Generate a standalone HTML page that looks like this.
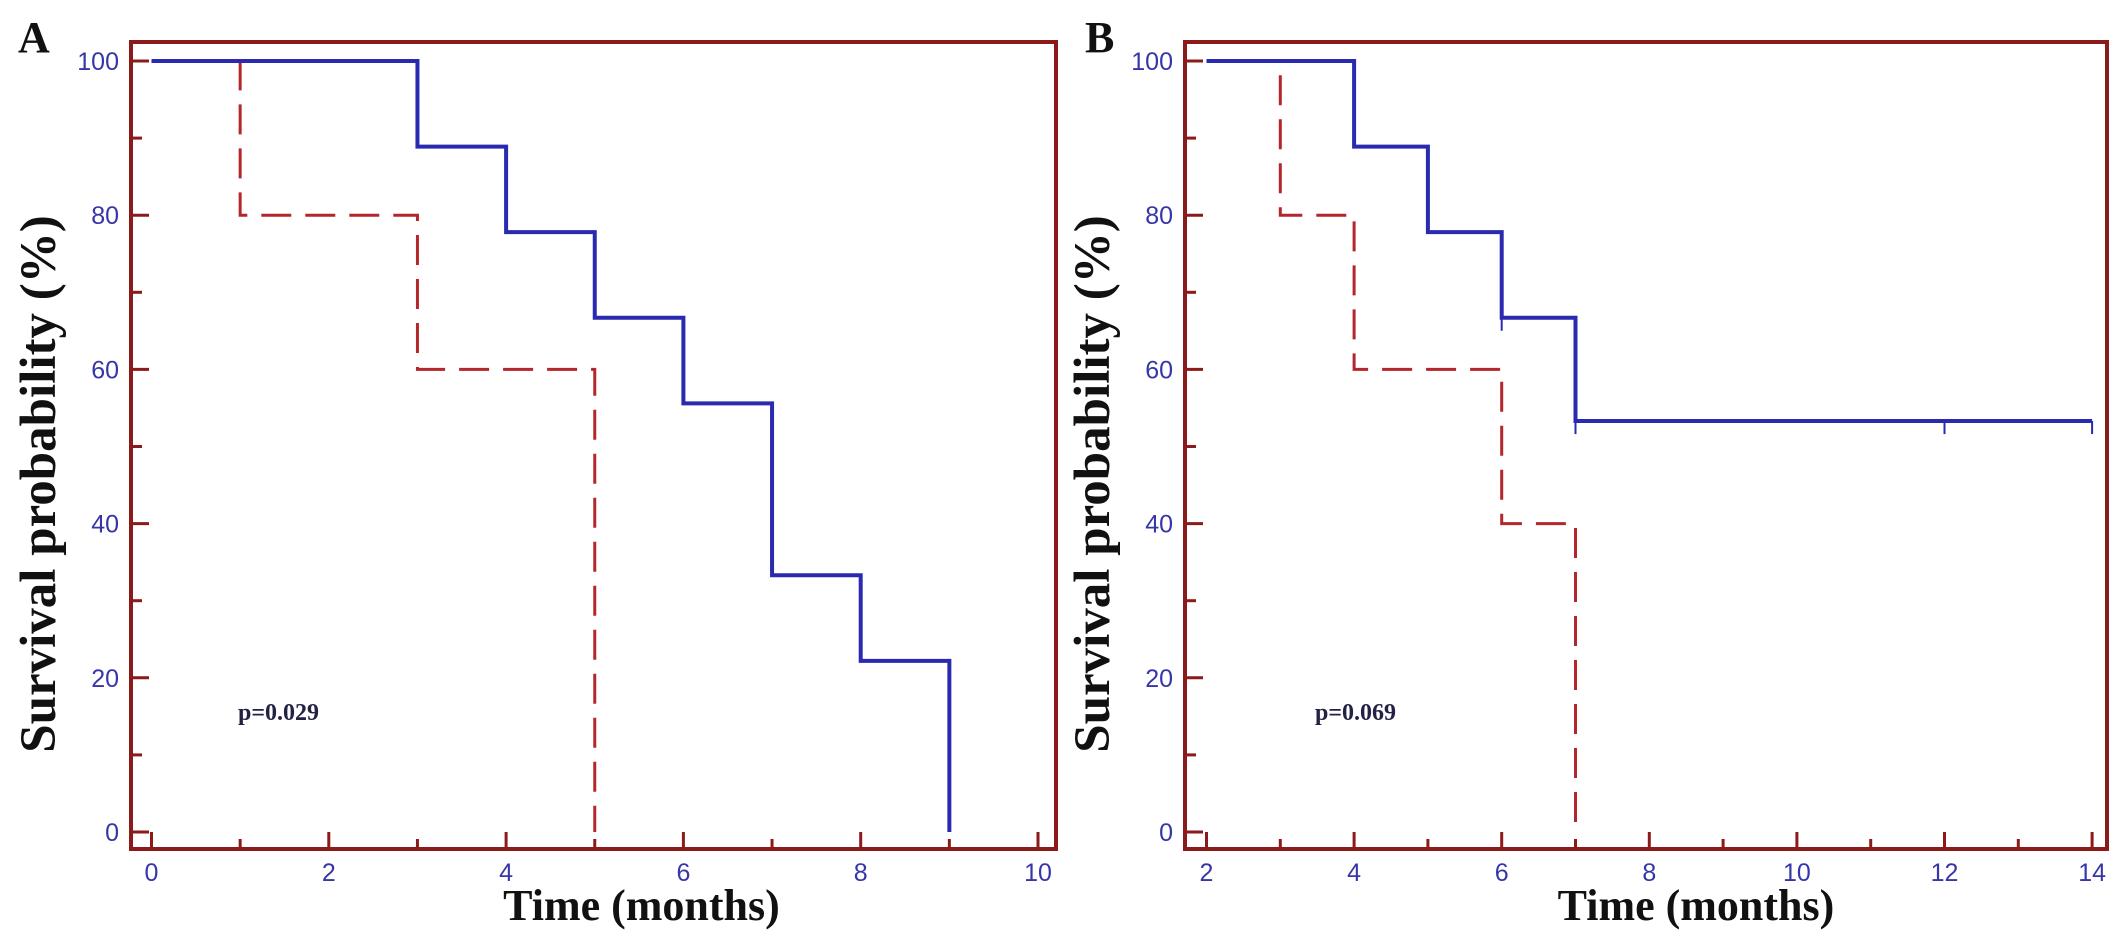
<!DOCTYPE html>
<html><head><meta charset="utf-8"><style>
html,body{margin:0;padding:0;background:#fff;}
svg{display:block;}
.tl{font-family:"Liberation Sans",sans-serif;font-size:25px;fill:#3636a8;}
.ttl{font-family:"Liberation Serif",serif;font-weight:bold;font-size:44px;fill:#111;}
.pv{font-family:"Liberation Serif",serif;font-weight:bold;font-size:24px;fill:#222244;}
</style></head><body>
<svg id="chart" width="2126" height="947" viewBox="0 0 2126 947" xmlns="http://www.w3.org/2000/svg">
<text x="18" y="52" class="ttl" font-size="42">A</text>
<text x="1085" y="52" class="ttl" font-size="42">B</text>
</svg>
<script>
// Panel A data
const aBlueT = [0, 3, 4, 5, 6, 7, 8, 9];
const aBlueS = [100, 88.9, 77.8, 66.7, 55.6, 33.3, 22.2, 0];
const aRedT = [0, 1, 3, 5];
const aRedS = [100, 80, 60, 0];
const aXTicks = [0, 2, 4, 6, 8, 10];
const aCensor = [];
// Panel B data
const bBlueT = [2, 4, 5, 6, 7];
const bBlueS = [100, 88.9, 77.8, 66.7, 53.3];
const bBlueEnd = 14;
const bRedT = [2, 3, 4, 6, 7];
const bRedS = [100, 80, 60, 40, 0];
const bXTicks = [2, 4, 6, 8, 10, 12, 14];
const bCensor = [6, 7, 12, 14];
const yTicks = [0, 20, 40, 60, 80, 100];
const pA = "p=0.029", pB = "p=0.069";

const svg = document.getElementById('chart');
const NS = 'http://www.w3.org/2000/svg';
function mk(tag, attrs, parent){const e=document.createElementNS(NS,tag);for(const k in attrs)e.setAttribute(k,attrs[k]);(parent||svg).appendChild(e);return e;}

function panel(cfg){
  const g = mk('g',{});
  
  
  const X = t => cfg.x0 + (t - cfg.t0) * cfg.pxPerT;
  const Y = s => 832 - s * 7.71;
  const fr = mk('rect',{x:cfg.left,y:42,width:cfg.right-cfg.left,height:849-42,fill:'none',stroke:'#8b1a1a','stroke-width':4},g);
  
  
  for(let v=0; v<=100; v+=10){
    const major = v%20===0;
    const t = mk('line',{x1:cfg.left,x2:cfg.left+(major?18:11),y1:Y(v),y2:Y(v),stroke:'#8b1a1a','stroke-width':3},g);
    
    
  }
  yTicks.forEach(v=>{
    const t = mk('text',{x:cfg.left-12,y:Y(v)+9,'text-anchor':'end',class:'tl'},g);
    t.textContent = v;
    
    
  });
  const tmax = cfg.xTicks[cfg.xTicks.length-1];
  for(let m=cfg.xTicks[0]; m<=tmax; m+=1){
    const major = (m - cfg.xTicks[0])%2===0;
    const t = mk('line',{x1:X(m),x2:X(m),y1:849,y2:849-(major?17:10),stroke:'#8b1a1a','stroke-width':3},g);
    
    
  }
  cfg.xTicks.forEach(m=>{
    const t = mk('text',{x:X(m),y:881,'text-anchor':'middle',class:'tl'},g);
    t.textContent = m;
    
    
  });
  function steps(T,S,end){
    let d = 'M'+X(T[0])+' '+Y(S[0]);
    for(let i=1;i<T.length;i++){ d += ' H'+X(T[i])+' V'+Y(S[i]); }
    if(end!==undefined) d += ' H'+X(end);
    return d;
  }
  const red = mk('path',{d:steps(cfg.redT,cfg.redS),fill:'none',stroke:'#b3262b','stroke-width':3,'stroke-dasharray':'30 14'},g);
  
  
  const blue = mk('path',{d:steps(cfg.blueT,cfg.blueS,cfg.blueEnd),fill:'none',stroke:'#2a2ab0','stroke-width':4},g);
  
  
  cfg.censor.forEach(c=>{
    let s = cfg.blueS[0];
    for(let i=0;i<cfg.blueT.length;i++){ if(cfg.blueT[i]<=c) s=cfg.blueS[i]; }
    const t = mk('line',{x1:X(c),x2:X(c),y1:Y(s),y2:Y(s)+13,stroke:'#2a2ab0','stroke-width':2},g);
    
    
  });
  const p = mk('text',{x:cfg.px,y:720,class:'pv'},g);
  p.textContent = cfg.p;
  
  
  const xt = mk('text',{x:(cfg.left+cfg.right)/2+ (cfg.name==='panel-a'?48:50),y:920,'text-anchor':'middle',class:'ttl'},g);
  xt.textContent = 'Time (months)';
  
  
  const yt = mk('text',{x:0,y:0,'text-anchor':'middle',class:'ttl','font-size':'51',transform:'translate('+(cfg.left-76)+',484) rotate(-90)'},g);
  yt.setAttribute('style','font-size:51px');
  yt.textContent = 'Survival probability (%)';
  
  
}
panel({name:'panel-a',left:131,right:1056,x0:151.5,t0:0,pxPerT:88.65,xTicks:aXTicks,blueT:aBlueT,blueS:aBlueS,blueEnd:undefined,redT:aRedT,redS:aRedS,censor:aCensor,p:pA,px:238});
panel({name:'panel-b',left:1185,right:2107,x0:1206.5,t0:2,pxPerT:73.8,xTicks:bXTicks,blueT:bBlueT,blueS:bBlueS,blueEnd:bBlueEnd,redT:bRedT,redS:bRedS,censor:bCensor,p:pB,px:1315});
</script>
</body></html>
